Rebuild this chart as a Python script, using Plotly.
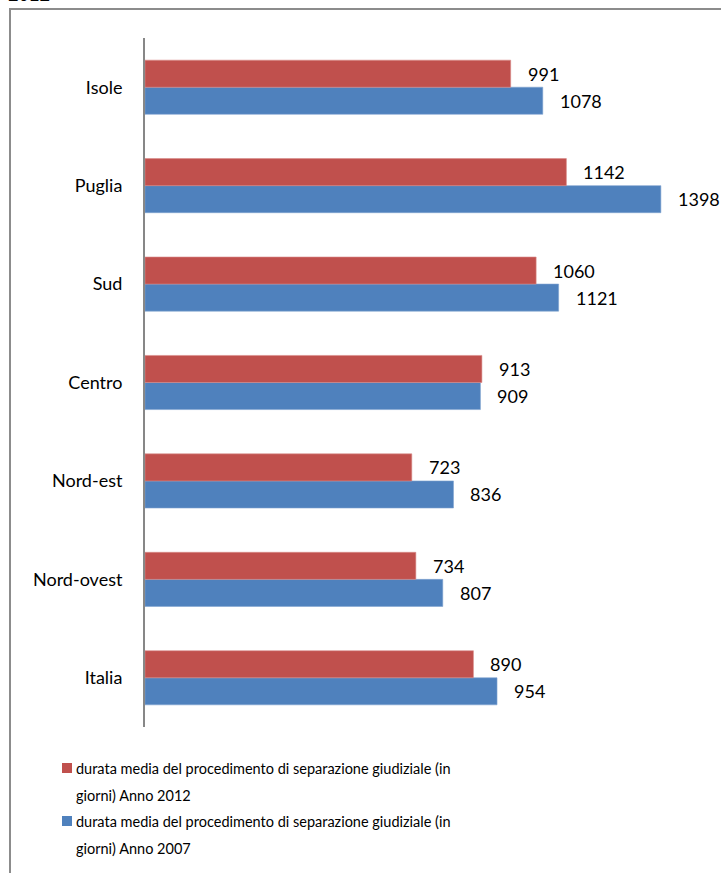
import plotly.graph_objects as go

# Regions, bottom to top as they appear on the category axis
regioni = ["Italia", "Nord-ovest", "Nord-est", "Centro", "Sud", "Puglia", "Isole"]
durata_2012 = [890, 734, 723, 913, 1060, 1142, 991]
durata_2007 = [954, 807, 836, 909, 1121, 1398, 1078]

nome_2012 = "durata media del procedimento di separazione giudiziale (in<br>giorni) Anno 2012"
nome_2007 = "durata media del procedimento di separazione giudiziale (in<br>giorni) Anno 2007"

ROSSO = "#C0504D"
BLU = "#4F81BD"
FONT = "Lato"

W, H = 721, 873
ML, MR, MT, MB = 145, 0, 38, 146
PW, PH = W - ML - MR, H - MT - MB


def px_x(x):
    return (x - ML) / PW


def px_y(y):
    return (H - MB - y) / PH


fig = go.Figure()
fig.add_trace(go.Bar(
    y=regioni, x=durata_2007, orientation="h", name=nome_2007,
    marker=dict(color=BLU, line=dict(color="#7FA3D0", width=0.6)),
    showlegend=False,
))
fig.add_trace(go.Bar(
    y=regioni, x=durata_2012, orientation="h", name=nome_2012,
    marker=dict(color=ROSSO, line=dict(color="#D88C8A", width=0.6)),
    showlegend=False,
))

annotations = []
for reg, v12, v07 in zip(regioni, durata_2012, durata_2007):
    for val, shift in ((v12, 13.5), (v07, -13.5)):
        annotations.append(dict(
            x=val, y=reg, xref="x", yref="y", text=str(val),
            showarrow=False, xanchor="left", yanchor="middle",
            xshift=15, yshift=shift,
            font=dict(family=FONT, size=18, color="#000000"),
        ))

# Legend entries: colour square followed by the two-line series name
legenda = [(ROSSO, nome_2012, 768), (BLU, nome_2007, 821)]
shapes = []
for colore, nome, y_top in legenda:
    shapes.append(dict(
        type="rect", xref="paper", yref="paper",
        x0=px_x(62), x1=px_x(72), y0=px_y(y_top + 5), y1=px_y(y_top - 5),
        fillcolor=colore, line=dict(width=0),
    ))
    righe = nome.split("<br>")
    for i, riga in enumerate(righe):
        annotations.append(dict(
            x=px_x(74), y=px_y(y_top + 27 * i), xref="paper", yref="paper",
            text=riga, showarrow=False, xanchor="left", yanchor="middle",
            font=dict(family=FONT, size=14.5, color="#000000"),
        ))

# Partially visible heading above the frame
annotations.append(dict(
    x=px_x(6), y=px_y(8), xref="paper", yref="paper", text="<b>2012</b>",
    showarrow=False, xanchor="left", yanchor="bottom",
    font=dict(family="Liberation Serif", size=21, color="#000000"),
))

# Outer frame: top and left edges
shapes.append(dict(type="line", xref="paper", yref="paper",
                   x0=px_x(9), x1=px_x(722), y0=px_y(9), y1=px_y(9),
                   line=dict(color="#8C8C8C", width=2)))
shapes.append(dict(type="line", xref="paper", yref="paper",
                   x0=px_x(10), x1=px_x(10), y0=px_y(9), y1=px_y(880),
                   line=dict(color="#8C8C8C", width=2)))

fig.update_layout(
    width=W, height=H,
    margin=dict(l=ML, r=MR, t=MT, b=MB),
    paper_bgcolor="white", plot_bgcolor="white",
    barmode="group", bargap=0.45, bargroupgap=0,
    annotations=annotations, shapes=shapes,
    xaxis=dict(range=[0, PW / 0.369], visible=False, showgrid=False),
    yaxis=dict(
        categoryorder="array", categoryarray=regioni,
        showline=True, linecolor="#878787", linewidth=2,
        showgrid=False, ticks="", ticklabelstandoff=17,
        tickfont=dict(family=FONT, size=18, color="#000000"),
    ),
    font=dict(family=FONT),
)

fig.write_html("out.html")
